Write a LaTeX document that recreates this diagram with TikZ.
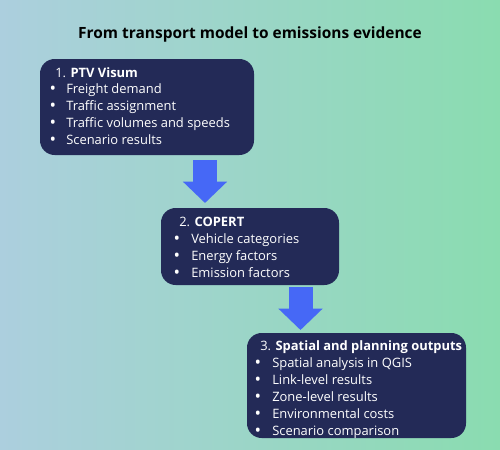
\documentclass[tikz,border=0pt]{standalone}
\usepackage{fontspec}
\setmainfont{Open Sans}
\usetikzlibrary{fit,arrows.meta}
\definecolor{navy}{RGB}{35,42,87}
\definecolor{bleu}{RGB}{70,104,246}
\definecolor{fondg}{RGB}{172,207,222}
\definecolor{fondd}{RGB}{138,220,176}

\begin{document}
\begin{tikzpicture}[x=0.75pt,y=-0.75pt,
  boite/.style={fill=navy,rounded corners=11pt,inner sep=0pt},
  ligne/.style={text=white,font=\fontsize{9.7}{11}\selectfont,anchor=base west,inner sep=0pt},
  puce/.style={text=white,font=\fontsize{13}{13}\selectfont,anchor=base,inner sep=0pt},
  fleche/.style={bleu,line width=18pt,-{Triangle[width=32.25pt,length=16pt]}}]
\useasboundingbox (0,0) rectangle (500,450);
\shade[left color=fondg,right color=fondd] (0,0) rectangle (500,450);
\node (titre) [anchor=base,font=\fontsize{11.6}{13}\selectfont\bfseries] at (250,38) {From transport model to emissions evidence};

\node (b1) [boite,fit={(40,59) (254,155)}] {};
\node (b2) [boite,fit={(161,208) (339,285)}] {};
\node (b3) [boite,fit={(247,333) (466,438)}] {};

\node (t1) [ligne] at (55,77) {1. \textbf{PTV Visum}};
\foreach \txt [count=\i] in {Freight demand,Traffic assignment,Traffic volumes and speeds,Scenario results}
  {\node (p1-\i) [puce] at (53,{78+16.75*\i}) {\textbullet};
   \node (l1-\i) [ligne] at (66,{77+16.75*\i}) {\txt};}

\node (t2) [ligne] at (179,226) {2. \textbf{COPERT}};
\foreach \txt [count=\i] in {Vehicle categories,Energy factors,Emission factors}
  {\node (p2-\i) [puce] at (177,{227+17*\i}) {\textbullet};
   \node (l2-\i) [ligne] at (191,{226+17*\i}) {\txt};}

\node (t3) [ligne] at (260,350) {3. \textbf{Spatial and planning outputs}};
\foreach \txt [count=\i] in {Spatial analysis in QGIS,Link-level results,Zone-level results,Environmental costs,Scenario comparison}
  {\node (p3-\i) [puce] at (258,{351+17*\i}) {\textbullet};
   \node (l3-\i) [ligne] at (272,{350+17*\i}) {\txt};}

\coordinate (f1a) at (205,160);
\coordinate (f1b) at (205,203);
\coordinate (f2a) at (300.5,287);
\coordinate (f2b) at (300.5,330);
\draw [fleche] (f1a) -- (f1b);
\draw [fleche] (f2a) -- (f2b);
\end{tikzpicture}
\end{document}
